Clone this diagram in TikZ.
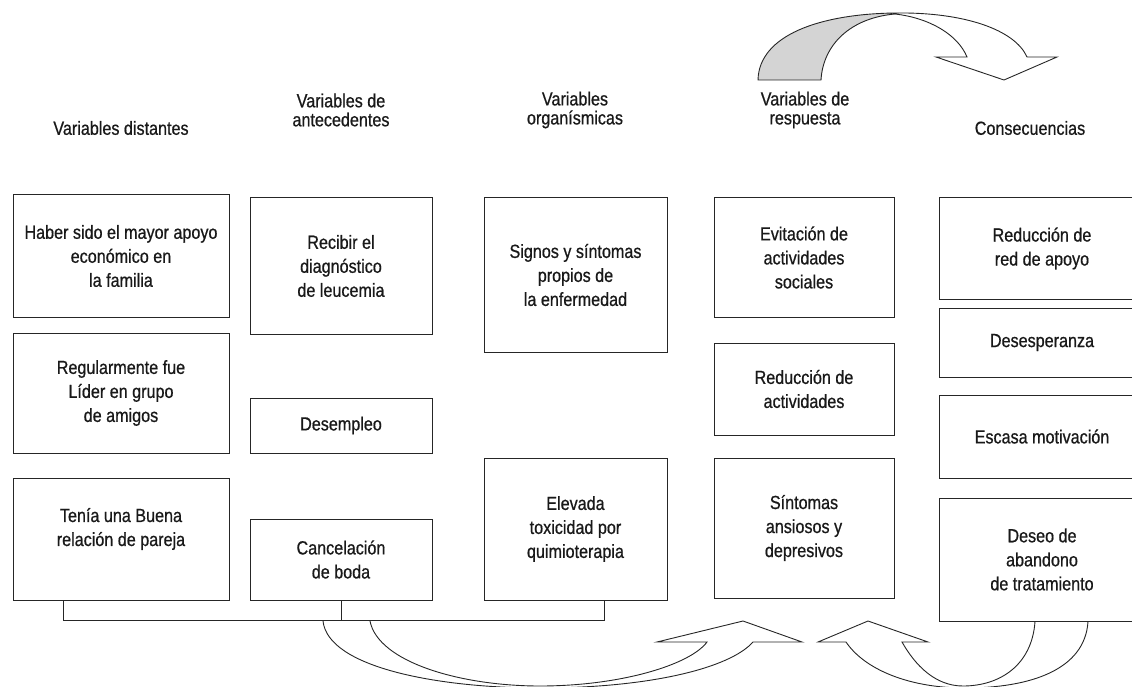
\documentclass[tikz,border=0pt]{standalone}
\usepackage{fontspec}
\setmainfont{Liberation Sans}[FakeStretch=0.85,FakeBold=0.7]
\begin{document}
\begin{tikzpicture}[x=1pt,y=-1pt,
  box/.style={draw=black!85, line width=1pt, align=center, inner sep=0pt,
    font=\fontsize{19}{24}\selectfont, text=black!90},
  hdr/.style={align=center, inner sep=0pt, font=\fontsize{19}{19}\selectfont, text=black!90},
  rib/.style={draw=black!85, line width=0.9pt, line join=miter}]
\useasboundingbox (0,0) rectangle (1132,687);
\clip (0,0) rectangle (1132,687);
% headers
\node[hdr] (h1) at (121,128) {Variables distantes};
\node[hdr] (h2) at (341,110) {Variables de\\antecedentes};
\node[hdr] (h3) at (575,110) {Variables\\organísmicas};
\node[hdr] (h4) at (805,110) {Variables de\\respuesta};
\node[hdr] (h5) at (1030,128) {Consecuencias};
% column 1
\node[box, minimum width=216, minimum height=122] (b1) at (121,256) {Haber sido el mayor apoyo\\económico en\\la familia};
\node[box, minimum width=216, minimum height=120] (b2) at (121,393) {Regularmente fue\\Líder en grupo\\de amigos};
\node[box, minimum width=216, minimum height=122] (b3) at (121,539) {Tenía una Buena\\relación de pareja\\\mbox{}};
% column 2
\node[box, minimum width=182, minimum height=136] (a1) at (341,266) {Recibir el\\diagnóstico\\de leucemia};
\node[box, minimum width=182, minimum height=55] (a2) at (341,425.5) {Desempleo};
\node[box, minimum width=182, minimum height=81] (a3) at (341,559.5) {Cancelación\\de boda};
% column 3
\node[box, minimum width=183, minimum height=154] (o1) at (575.5,275) {Signos y síntomas\\propios de\\la enfermedad};
\node[box, minimum width=183, minimum height=142] (o2) at (575.5,529) {Elevada\\toxicidad por\\quimioterapia};
% column 4
\node[box, minimum width=180, minimum height=119] (r1) at (804,257.5) {Evitación de\\actividades\\sociales};
\node[box, minimum width=180, minimum height=92] (r2) at (804,389) {Reducción de\\actividades};
\node[box, minimum width=180, minimum height=140] (r3) at (804,528) {Síntomas\\ansiosos y\\depresivos};
% column 5
\node[box, minimum width=206, minimum height=101] (c1) at (1042,248.5) {Reducción de\\red de apoyo};
\node[box, minimum width=206, minimum height=69] (c2) at (1042,342.5) {Desesperanza};
\node[box, minimum width=206, minimum height=83] (c3) at (1042,436.5) {Escasa motivación};
\node[box, minimum width=206, minimum height=123] (c4) at (1042,559.5) {Deseo de\\abandono\\de tratamiento};
% bracket
\coordinate (brL) at (63,620);
\coordinate (brR) at (604,620);
\draw[rib] (b3.south -| brL) |- (brR) -- (o2.south -| brR);
\draw[rib] (a3.south) -- (a3.south |- brL);
% top ribbon arrow
\fill[black!17] (758,80) .. controls (759,35) and (820,14) .. (895,13)
   -- (895,14) .. controls (850,18) and (823,45) .. (821,80) -- cycle;
\draw[rib] (758,80) .. controls (759,35) and (820,14) .. (895,13)
   .. controls (965,12) and (1015,30) .. (1027,57)
   -- (1057,57) -- (1004,80) -- (936,57) -- (967,57)
   .. controls (958,35) and (930,18) .. (895,14)
   .. controls (850,18) and (823,45) .. (821,80) -- cycle;
% bottom-left ribbon arrow
\coordinate (sA) at (323,621);
\coordinate (sB) at (370,621);
\draw[rib] (sA) .. controls (328,668) and (440,688) .. (540,688)
   .. controls (650,688) and (730,668) .. (753,642)
   -- (802,642) -- (743,621) -- (657,642) -- (707,642)
   .. controls (690,665) and (620,686) .. (540,686)
   .. controls (460,686) and (378,662) .. (sB);
% bottom-right ribbon arrow
\coordinate (pC) at (1035,0);
\coordinate (pD) at (1088,0);
\draw[rib] (c4.south -| pC) .. controls (1032,665) and (1000,686) .. (963,686)
   .. controls (935,686) and (915,665) .. (902,642)
   -- (928,642) -- (868,621) -- (818,642) -- (846,642)
   .. controls (865,670) and (910,688) .. (965,688)
   .. controls (1030,688) and (1085,670) .. (c4.south -| pD);
\end{tikzpicture}
\end{document}
